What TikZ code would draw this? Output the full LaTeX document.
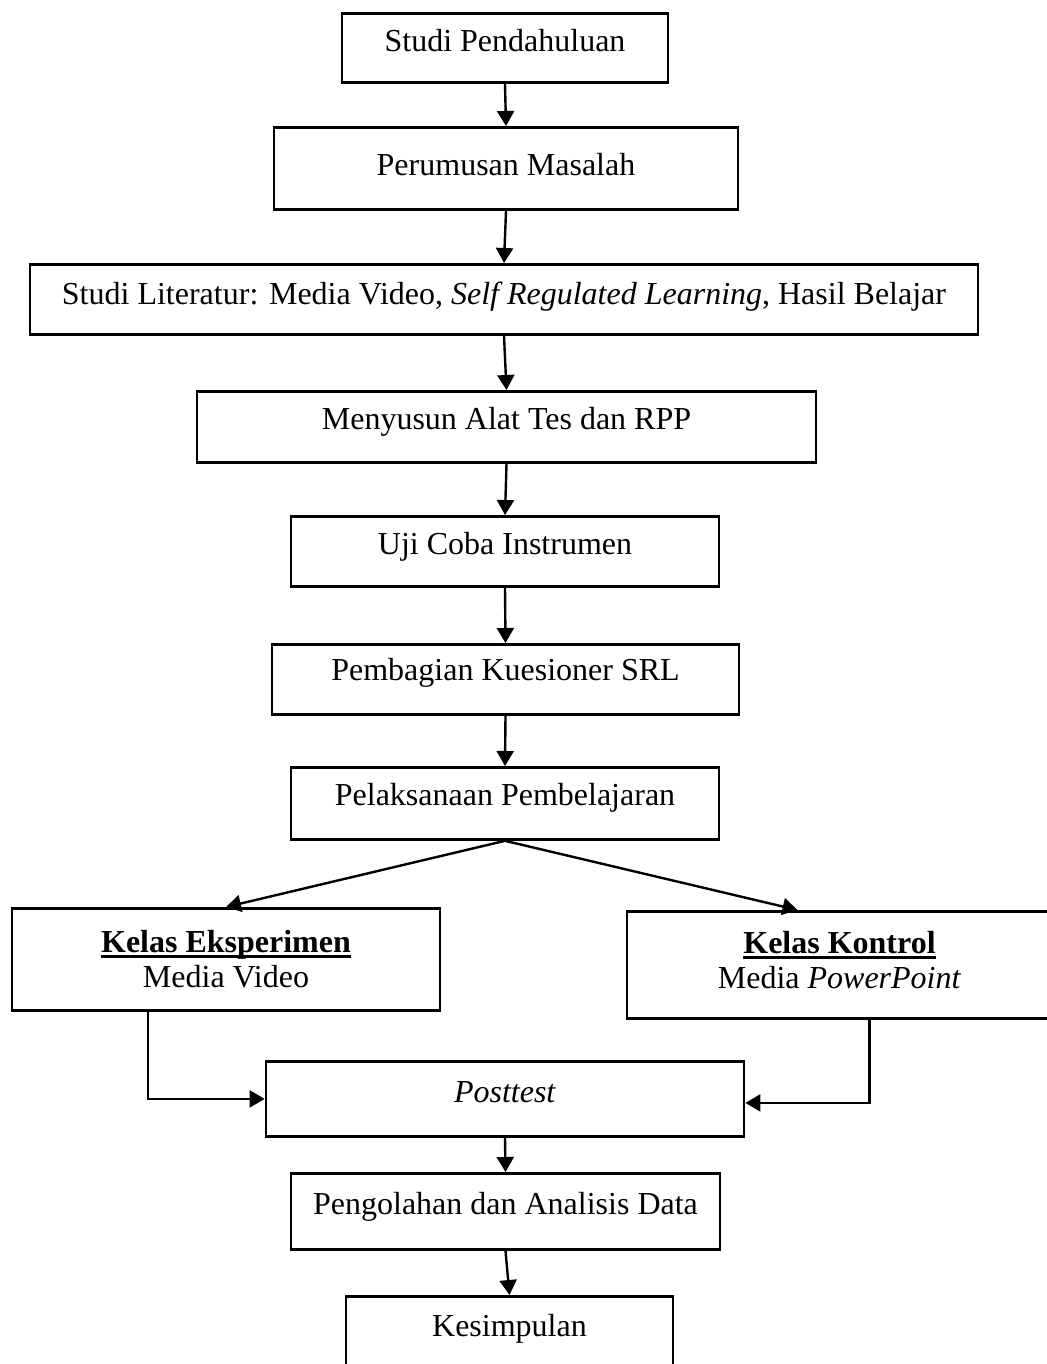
\documentclass[tikz,border=0pt]{standalone}
\usepackage{fontspec}
\setmainfont{Liberation Serif}
\usetikzlibrary{arrows.meta}
\newcommand{\thickul}[1]{\setbox0\hbox{#1}\rlap{\rule[-2.6pt]{\wd0}{1.3pt}}\box0}

\begin{document}
\begin{tikzpicture}[x=0.5pt, y=-0.5pt,
  stepbox/.style={draw, line width=1.4pt, inner xsep=0pt, inner ysep=0pt, anchor=north, align=center, font=\fontsize{16}{17.5}\selectfont},
  onebox/.style={stepbox, text height=19pt},
  flow/.style={-{Triangle[length=7.5pt, width=8.5pt]}, line width=1.2pt}
]
\useasboundingbox (0,0) rectangle (1046,1364);

% Main column
\node[onebox, minimum width=163pt, text depth=15.5pt] (pendahuluan) at (505,12) {Studi Pendahuluan};
\node[onebox, minimum width=232pt, text height=24pt, text depth=17pt] (masalah) at (506,126) {Perumusan Masalah};
\node[onebox, minimum width=474pt, text height=20pt, text depth=15pt] (literatur) at (504,263) {Studi Literatur: Media Video, \textit{Self Regulated Learning}, Hasil Belajar};
\node[onebox, minimum width=309.5pt, text depth=16.5pt] (alattes) at (506.5,390) {Menyusun Alat Tes dan RPP};
\node[onebox, minimum width=214pt, text depth=16pt] (ujicoba) at (505,515) {Uji Coba Instrumen};
\node[onebox, minimum width=233.5pt, text height=18pt, text depth=17pt] (kuesioner) at (505.5,643) {Pembagian Kuesioner SRL};
\node[onebox, minimum width=214pt, text depth=17pt] (pelaksanaan) at (505,766) {Pelaksanaan Pembelajaran};

% Two classes
\node[stepbox, minimum width=214pt, minimum height=51pt] (eksperimen) at (226,907) {\thickul{\textbf{Kelas Eksperimen}}\\Media Video};
\node[stepbox, minimum width=212.5pt, minimum height=53.5pt] (kontrol) at (839.5,910) {\thickul{\textbf{Kelas Kontrol}}\\Media \textit{PowerPoint}\\[-12.5pt]};

% Final steps
\node[onebox, minimum width=239pt, text height=20.5pt, text depth=17pt] (posttest) at (505,1060) {\textit{Posttest}};
\node[onebox, minimum width=214.5pt, text height=20.5pt, text depth=17.5pt] (analisis) at (505.5,1172) {Pengolahan dan Analisis Data};
\node[onebox, minimum width=163.5pt, text height=20pt, text depth=30pt] (kesimpulan) at (509.5,1295) {Kesimpulan};

% Arrows
\draw[flow] (pendahuluan.south) -- (masalah.north);
\draw[flow] (masalah.south) -- (literatur.north);
\draw[flow] (literatur.south) -- (alattes.north);
\draw[flow] (alattes.south) -- (ujicoba.north);
\draw[flow] (ujicoba.south) -- (kuesioner.north);
\draw[flow] (kuesioner.south) -- (pelaksanaan.north);
\draw[flow] (pelaksanaan.south) -- (eksperimen.north);
\draw[flow] (pelaksanaan.south) -- ([xshift=-21pt]kontrol.north);
\draw[flow] ([xshift=-39pt]eksperimen.south) |- (posttest.west);
\draw[flow] ([xshift=15pt]kontrol.south) |- ([yshift=-2pt]posttest.east);
\draw[flow] (posttest.south) -- (analisis.north);
\draw[flow] (analisis.south) -- (kesimpulan.north);
\end{tikzpicture}
\end{document}
